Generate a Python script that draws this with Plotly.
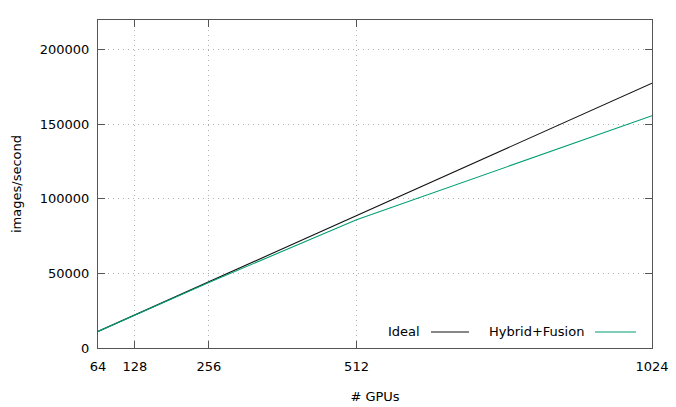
import plotly.graph_objects as go

gpus = [64, 128, 256, 512, 1024]
ideal = [11100, 22200, 44400, 88800, 177600]
hybrid_fusion = [11100, 22100, 43900, 86000, 155800]
x_ticks = [64, 128, 256, 512, 1024]
y_ticks = [0, 50000, 100000, 150000, 200000]

FONT = "DejaVu Sans"
FS = 13
ideal_color = "#111111"
hybrid_color = "#009e73"

fig = go.Figure()
fig.add_trace(go.Scatter(x=gpus, y=ideal, mode="lines", name="Ideal",
                         line=dict(color=ideal_color, width=1.1), showlegend=False))
fig.add_trace(go.Scatter(x=gpus, y=hybrid_fusion, mode="lines", name="Hybrid+Fusion",
                         line=dict(color=hybrid_color, width=1.1), showlegend=False))

axis_common = dict(
    showline=True, linecolor="#555555", linewidth=1.2, mirror="ticks",
    ticks="inside", ticklen=7, tickcolor="#555555", tickwidth=1.2,
    showgrid=True, gridcolor="#b0b0b0", griddash="1px,4px", gridwidth=1,
    zeroline=False, tickfont=dict(family=FONT, size=FS, color="#000"),
)

fig.update_xaxes(range=[64, 1024], tickvals=x_ticks, ticktext=[str(v) for v in x_ticks],
                 ticklabelstandoff=6,
                 title=dict(text="# GPUs", font=dict(family=FONT, size=FS, color="#000"), standoff=19),
                 **axis_common)
fig.update_yaxes(range=[0, 220000], tickvals=y_ticks, ticktext=[str(v) for v in y_ticks],
                 ticklabelstandoff=5,
                 title=dict(text="images/second", font=dict(family=FONT, size=FS, color="#000"), standoff=15),
                 **axis_common)

# gnuplot-style key: text then sample line
legend_items = [("Ideal", ideal_color, 0.5848, 0.601, 0.6697),
                ("Hybrid+Fusion", hybrid_color, 0.8809, 0.8971, 0.9711)]
for name, col, tx, x0, x1 in legend_items:
    fig.add_annotation(text=name, x=tx, y=0.0488, xref="paper", yref="paper",
                       xanchor="right", yanchor="middle", showarrow=False,
                       font=dict(family=FONT, size=FS, color="#000"))
    fig.add_shape(type="line", xref="paper", yref="paper", x0=x0, x1=x1, y0=0.0488, y1=0.0488,
                  line=dict(color=col, width=1.1))

fig.update_layout(
    width=676, height=407,
    margin=dict(l=98, r=24, t=20, b=59, autoexpand=False),
    paper_bgcolor="white", plot_bgcolor="white",
    font=dict(family=FONT, size=FS, color="#000"),
)

fig.write_html("out.html", config={"displayModeBar": False},
               post_script="document.body.style.margin='0';")
